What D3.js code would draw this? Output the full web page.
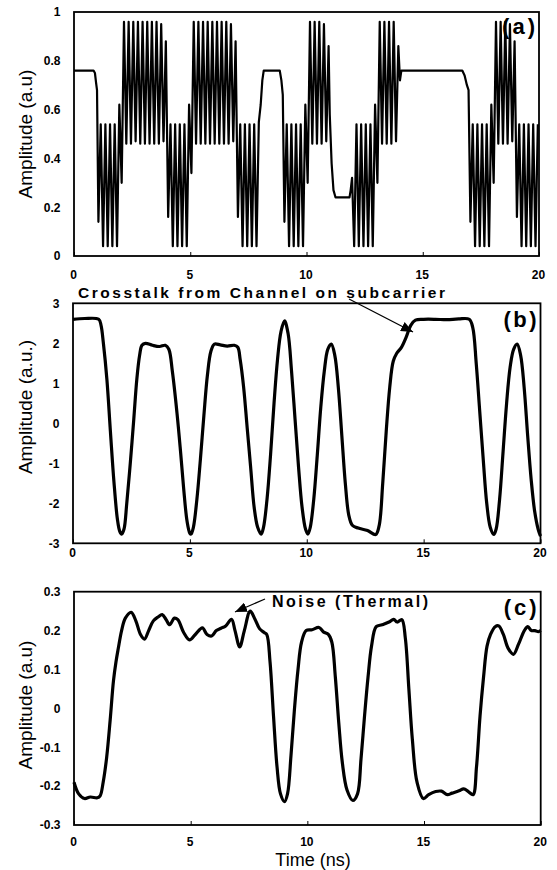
<!DOCTYPE html>
<html><head><meta charset="utf-8">
<script src="https://cdn.jsdelivr.net/npm/d3@7/dist/d3.min.js"></script>
<style>body{margin:0;background:#fff}</style>
</head><body>
<svg id="chart" width="557" height="870"></svg>
<script>
// ---------------- DATA ----------------
const xTicks = [0, 5, 10, 15, 20];
const xTickLabels = ["0", "5", "10", "15", "20"];

const aYTicks = [0, 0.2, 0.4, 0.6, 0.8, 1];
const aYTickLabels = ["0", "0.2", "0.4", "0.6", "0.8", "1"];
const bYTicks = [-3, -2, -1, 0, 1, 2, 3];
const bYTickLabels = ["-3", "-2", "-1", "0", "1", "2", "3"];
const cYTicks = [-0.3, -0.2, -0.1, 0, 0.1, 0.2, 0.3];
const cYTickLabels = ["-0.3", "-0.2", "-0.1", "0", "0.1", "0.2", "0.3"];

// Panel (a): slow (non-oscillating) parts [t, amplitude]
const aKnots = [[0,0.76],[0.84,0.76],[0.9,0.75],[0.95,0.71],[0.99,0.68],
  [8.03,0.62],[8.1,0.72],[8.16,0.76],[8.85,0.76],[8.92,0.72],[8.98,0.66],
  [11.0,0.58],[11.08,0.38],[11.16,0.27],[11.25,0.24],[11.85,0.24],[11.9,0.27],[11.96,0.32],
  [14.02,0.72],[14.08,0.76],[16.7,0.76],[16.8,0.74],[16.9,0.70],[16.97,0.68]];
// Panel (a): subcarrier bursts, successive extremes read every 0.1 ns
const aSampleStep = 0.1;
const aBurstStart = [1.05, 9.05, 12.05, 17.05];
const aBurst1 = [.14,.54,.04,.54,.04,.54,.04,.54,.04,.62,.30,
  .96,.46,.96,.46,.96,.47,.96,.46,.96,.46,.96,.46,.96,.46,.96,.46,.95,.47,.88,.16,
  .54,.04,.54,.04,.54,.04,.54,.04,.62,.34,
  .96,.46,.96,.46,.96,.46,.96,.46,.96,.46,.96,.46,.96,.46,.96,.46,.95,.47,.88,.16,
  .54,.04,.54,.04,.54,.04,.54,.04,.55];
const aBurst2 = [.14,.54,.04,.54,.04,.54,.04,.54,.04,.62,.30,.96,.46,.96,.46,.96,.46,.95,.47,.86];
const aBurst3 = [.04,.54,.04,.54,.04,.54,.04,.54,.04,.62,.30,.96,.46,.96,.46,.96,.46,.96,.47,.86];
const aBurst4 = [.14,.54,.04,.54,.04,.54,.04,.54,.04,.62,.30,.96,.46,.96,.46,.96,.46,.95,.47,.88,.16,
  .54,.04,.54,.04,.54,.04,.54,.04,.54];

// Panel (b): [t, amplitude]
const bSignal = [[0,2.6],[0.5,2.62],[1.1,2.6],[1.2,2.45],[1.3,2.0],[1.45,1.1],[1.6,-0.2],[1.75,-1.45],[1.9,-2.4],[2.0,-2.7],[2.08,-2.77],
  [2.18,-2.65],[2.3,-2.0],[2.45,-1.0],[2.6,0.1],[2.73,1.1],[2.85,1.7],[2.95,1.95],[3.1,2.0],[3.4,1.95],[3.7,1.92],[3.95,1.95],
  [4.1,1.85],[4.25,1.3],[4.45,0.25],[4.6,-0.7],[4.73,-1.6],[4.88,-2.45],[5.0,-2.75],[5.05,-2.77],[5.15,-2.6],[5.3,-1.9],[5.45,-0.9],
  [5.6,0.2],[5.75,1.2],[5.9,1.8],[6.05,1.98],[6.3,1.96],[6.6,1.93],[6.9,1.95],[7.05,1.9],[7.15,1.6],[7.3,0.9],[7.45,-0.1],[7.6,-1.1],
  [7.75,-2.1],[7.9,-2.6],[8.05,-2.77],[8.15,-2.6],[8.3,-1.9],[8.45,-0.8],[8.6,0.5],[8.75,1.6],[8.9,2.3],[9.05,2.56],[9.2,2.25],
  [9.35,1.3],[9.5,0.1],[9.65,-1.1],[9.8,-2.1],[9.95,-2.65],[10.05,-2.77],[10.15,-2.6],[10.3,-1.9],[10.45,-0.8],[10.6,0.4],[10.75,1.3],
  [10.9,1.85],[11.05,1.98],[11.2,1.7],[11.35,0.9],[11.5,-0.3],[11.65,-1.5],[11.8,-2.3],[11.95,-2.55],[12.2,-2.62],[12.6,-2.68],
  [12.95,-2.78],[13.1,-2.55],[13.25,-1.5],[13.4,-0.2],[13.55,0.9],[13.7,1.55],[13.85,1.75],[14.05,1.9],[14.25,2.15],[14.45,2.45],
  [14.65,2.58],[15.0,2.6],[15.5,2.6],[16.0,2.59],[16.5,2.61],[16.95,2.6],[17.1,2.4],[17.25,1.5],[17.4,0.3],[17.55,-0.9],[17.7,-2.0],
  [17.85,-2.6],[18.0,-2.78],[18.1,-2.65],[18.25,-1.9],[18.4,-0.7],[18.55,0.5],[18.7,1.4],[18.85,1.85],[19.0,1.98],[19.15,1.7],
  [19.3,0.9],[19.45,-0.3],[19.6,-1.4],[19.75,-2.2],[19.9,-2.65],[20.0,-2.82]];

// Panel (c): [t, amplitude]
const cSignal = [[0,-0.19],[0.2,-0.22],[0.45,-0.232],[0.7,-0.228],[1.0,-0.23],[1.12,-0.225],[1.25,-0.19],[1.4,-0.126],[1.55,-0.03],
  [1.69,0.07],[1.8,0.12],[1.9,0.155],[2.04,0.2],[2.2,0.232],[2.45,0.247],[2.65,0.225],[2.85,0.19],[3.02,0.178],[3.2,0.2],[3.4,0.225],
  [3.6,0.235],[3.78,0.241],[3.95,0.228],[4.1,0.215],[4.3,0.232],[4.45,0.228],[4.7,0.195],[4.95,0.176],[5.2,0.19],[5.5,0.207],
  [5.7,0.19],[5.9,0.186],[6.1,0.2],[6.3,0.206],[6.5,0.212],[6.75,0.229],[6.9,0.2],[7.1,0.158],[7.3,0.2],[7.55,0.25],[7.75,0.23],
  [7.95,0.205],[8.15,0.195],[8.26,0.19],[8.4,0.12],[8.55,-0.02],[8.7,-0.15],[8.85,-0.22],[9.02,-0.24],[9.15,-0.22],[9.3,-0.12],
  [9.45,0.0],[9.6,0.1],[9.75,0.17],[9.95,0.2],[10.2,0.202],[10.5,0.208],[10.7,0.196],[10.9,0.19],[11.05,0.17],[11.2,0.08],
  [11.35,-0.04],[11.5,-0.14],[11.7,-0.21],[11.95,-0.237],[12.15,-0.22],[12.3,-0.13],[12.45,-0.02],[12.6,0.08],[12.75,0.16],
  [12.95,0.21],[13.2,0.215],[13.5,0.222],[13.7,0.229],[13.85,0.222],[14.05,0.228],[14.2,0.18],[14.35,0.05],[14.5,-0.08],
  [14.7,-0.19],[14.97,-0.232],[15.2,-0.222],[15.5,-0.214],[15.75,-0.213],[16.0,-0.222],[16.2,-0.218],[16.5,-0.212],[16.7,-0.207],
  [16.9,-0.214],[17.1,-0.222],[17.25,-0.15],[17.4,-0.02],[17.55,0.08],[17.7,0.16],[17.85,0.19],[18.05,0.21],[18.2,0.212],
  [18.4,0.19],[18.6,0.155],[18.83,0.139],[19.05,0.165],[19.3,0.2],[19.45,0.21],[19.6,0.2],[19.75,0.2],[19.9,0.197],[20.0,0.2]];

// ---------------- BUILD ----------------
const aBursts = [aBurst1, aBurst2, aBurst3, aBurst4];
const aSignal = aKnots.slice();
aBursts.forEach((vals, k) => vals.forEach((v, i) => aSignal.push([aBurstStart[k] + i * aSampleStep, v])));
aSignal.sort((p, q) => p[0] - q[0]);

const FONT = "'Liberation Sans', Arial, Helvetica, sans-serif";
const svg = d3.select("#chart");
svg.append("defs").append("marker")
  .attr("id", "arrow").attr("markerUnits", "userSpaceOnUse")
  .attr("viewBox", "0 0 12 10").attr("refX", 12).attr("refY", 5)
  .attr("markerWidth", 12).attr("markerHeight", 10).attr("orient", "auto")
  .append("path").attr("d", "M0,0 L12,5 L0,10 Z").attr("fill", "#000");

const panels = [
  {data: aSignal, box: [74, 12, 539, 256], yDom: [0, 1], yTicks: aYTicks, yLabels: aYTickLabels,
   xPad: 14, title: "Amplitude (a.u)", titleY: 134, lw: 2.2, curve: d3.curveLinear, tag: "(a)", tagY: 34},
  {data: bSignal, box: [73, 303.3, 540.5, 543.3], yDom: [-3, 3], yTicks: bYTicks, yLabels: bYTickLabels,
   xPad: 5, title: "Amplitude (a.u.)", titleY: 407, lw: 3.2, curve: d3.curveCatmullRom, tag: "(b)", tagY: 327},
  {data: cSignal, box: [74, 591.7, 540.7, 825], yDom: [-0.3, 0.3], yTicks: cYTicks, yLabels: cYTickLabels,
   xPad: 12, title: "Amplitude (a.u)", titleY: 705, lw: 3.2, curve: d3.curveCatmullRom, tag: "(c)", tagY: 615}
];

panels.forEach(p => {
  const [l, t, r, b] = p.box;
  const x = d3.scaleLinear().domain([0, 20]).range([l, r]);
  const y = d3.scaleLinear().domain(p.yDom).range([b, t]);
  const g = svg.append("g");

  const xa = g.append("g").attr("transform", `translate(0,${b})`)
    .call(d3.axisBottom(x).tickValues(xTicks).tickSize(-4).tickPadding(p.xPad)
      .tickFormat((d, i) => xTickLabels[i]));
  xa.select(".domain").remove();
  xa.selectAll("line").attr("stroke", "#000").attr("stroke-width", 1);
  xa.selectAll("text").attr("font-family", FONT).attr("font-size", 12).attr("font-weight", "bold")
    .attr("fill", "#000").attr("dx", "-1");

  const ya = g.append("g").attr("transform", `translate(${l},0)`)
    .call(d3.axisLeft(y).tickValues(p.yTicks).tickSize(0).tickPadding(13.5)
      .tickFormat((d, i) => p.yLabels[i]));
  ya.select(".domain").remove();
  ya.selectAll("text").attr("font-family", FONT).attr("font-size", 12).attr("font-weight", "bold").attr("fill", "#000");

  g.append("path").datum(p.data)
    .attr("d", d3.line().x(d => x(d[0])).y(d => y(d[1])).curve(p.curve))
    .attr("fill", "none").attr("stroke", "#000").attr("stroke-width", p.lw)
    .attr("stroke-linejoin", "round");

  g.append("rect").attr("x", l).attr("y", t).attr("width", r - l).attr("height", b - t)
    .attr("fill", "none").attr("stroke", "#000").attr("stroke-width", 1.8);

  g.append("text").attr("transform", `translate(25,${p.titleY}) rotate(-90)`)
    .attr("text-anchor", "middle").attr("dominant-baseline", "central")
    .attr("font-family", FONT).attr("font-size", 19).attr("fill", "#000").text(p.title);

  g.append("text").attr("x", r - 4).attr("y", p.tagY).attr("text-anchor", "end")
    .attr("font-family", FONT).attr("font-size", 22).attr("font-weight", "bold").attr("fill", "#000")
    .attr("textLength", 33).attr("lengthAdjust", "spacing").text(p.tag);
});

// annotations
svg.append("text").attr("x", 78).attr("y", 298).attr("font-family", FONT).attr("font-size", 15.5)
  .attr("font-weight", "bold").attr("textLength", 367).attr("lengthAdjust", "spacing")
  .text("Crosstalk from Channel on subcarrier");
svg.append("line").attr("x1", 349).attr("y1", 299).attr("x2", 413).attr("y2", 332)
  .attr("stroke", "#000").attr("stroke-width", 1.3).attr("marker-end", "url(#arrow)");

svg.append("text").attr("x", 272).attr("y", 607).attr("font-family", FONT).attr("font-size", 16)
  .attr("font-weight", "bold").attr("textLength", 156).attr("lengthAdjust", "spacing")
  .text("Noise (Thermal)");
svg.append("line").attr("x1", 265).attr("y1", 599).attr("x2", 235).attr("y2", 612)
  .attr("stroke", "#000").attr("stroke-width", 1.3).attr("marker-end", "url(#arrow)");

svg.append("text").attr("x", 313).attr("y", 866).attr("text-anchor", "middle")
  .attr("font-family", FONT).attr("font-size", 18).attr("fill", "#000").text("Time (ns)");
</script>
</body></html>
